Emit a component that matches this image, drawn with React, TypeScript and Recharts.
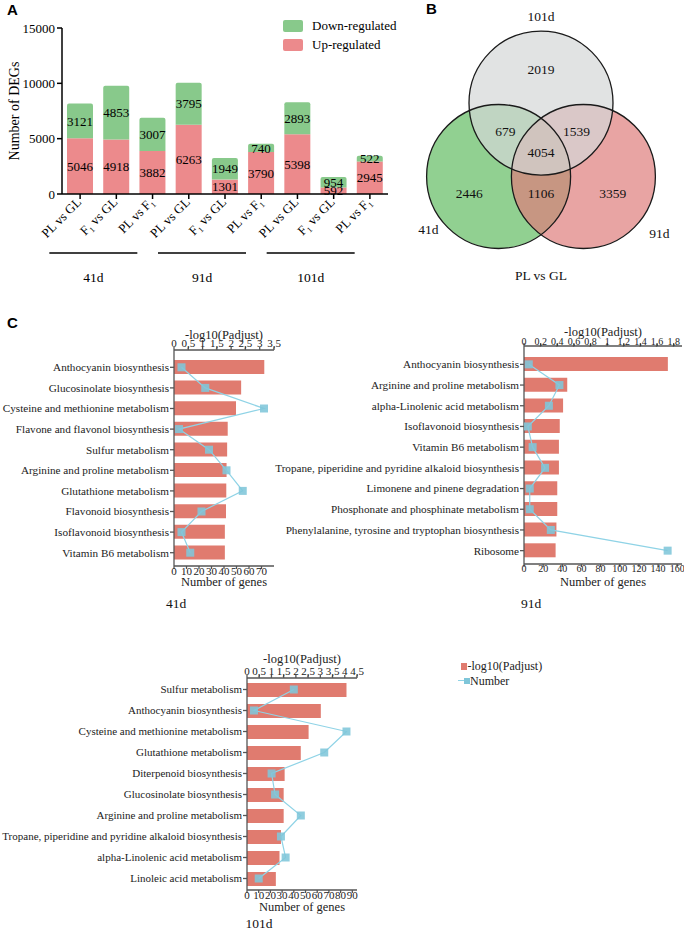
import React from 'react';
import {
  BarChart, Bar, XAxis, YAxis, LabelList, Legend,
  ComposedChart, Line, ScatterChart, Scatter,
} from 'recharts';

const SERIF = '"Liberation Serif", "Times New Roman", Times, serif';
const SANS = '"Liberation Sans", Arial, Helvetica, sans-serif';

// ── A: number of DEGs per comparison ─────────────────────────────────────────
const comparisons = ['PL vs GL', 'F1 vs GL', 'PL vs F1', 'PL vs GL', 'F1 vs GL', 'PL vs F1', 'PL vs GL', 'F1 vs GL', 'PL vs F1'];
const stages = ['41d', '41d', '41d', '91d', '91d', '91d', '101d', '101d', '101d'];
const upRegulated = [5046, 4918, 3882, 6263, 1301, 3790, 5398, 592, 2945];
const downRegulated = [3121, 4853, 3007, 3795, 1949, 740, 2893, 954, 522];
const degTicks = [0, 5000, 10000, 15000];

// ── B: Venn, PL vs GL ────────────────────────────────────────────────────────
const vennSets = ['41d', '91d', '101d'];
const vennRegionSets = [['101d'], ['41d'], ['91d'], ['41d', '101d'], ['91d', '101d'], ['41d', '91d'], ['41d', '91d', '101d']];
const vennCounts = [2019, 2446, 3359, 679, 1539, 1106, 4054];
const vennTitle = 'PL vs GL';

// ── C: KEGG enrichment ───────────────────────────────────────────────────────
const kegg41Pathways = [
  'Anthocyanin biosynthesis', 'Glucosinolate biosynthesis', 'Cysteine and methionine metabolism',
  'Flavone and flavonol biosynthesis', 'Sulfur metabolism', 'Arginine and proline metabolism',
  'Glutathione metabolism', 'Flavonoid biosynthesis', 'Isoflavonoid biosynthesis', 'Vitamin B6 metabolism',
];
const kegg41Padj = [3.16, 2.35, 2.17, 1.88, 1.86, 1.84, 1.83, 1.82, 1.78, 1.78];
const kegg41Genes = [6, 25, 72, 4, 28, 42, 55, 22, 6, 13];
const kegg41PadjTicks = [0, 0.5, 1, 1.5, 2, 2.5, 3, 3.5];
const kegg41GeneTicks = [0, 10, 20, 30, 40, 50, 60, 70];

const kegg91Pathways = [
  'Anthocyanin biosynthesis', 'Arginine and proline metabolism', 'alpha-Linolenic acid metabolism',
  'Isoflavonoid biosynthesis', 'Vitamin B6 metabolism', 'Tropane, piperidine and pyridine alkaloid biosynthesis',
  'Limonene and pinene degradation', 'Phosphonate and phosphinate metabolism',
  'Phenylalanine, tyrosine and tryptophan biosynthesis', 'Ribosome',
];
const kegg91Padj = [1.73, 0.52, 0.47, 0.43, 0.42, 0.42, 0.4, 0.4, 0.39, 0.38];
const kegg91Genes = [5, 37, 26, 4, 9, 22, 6, 6, 28, 150];
const kegg91PadjTicks = [0, 0.2, 0.4, 0.6, 0.8, 1, 1.2, 1.4, 1.6, 1.8];
const kegg91GeneTicks = [0, 20, 40, 60, 80, 100, 120, 140, 160];

const kegg101Pathways = [
  'Sulfur metabolism', 'Anthocyanin biosynthesis', 'Cysteine and methionine metabolism',
  'Glutathione metabolism', 'Diterpenoid biosynthesis', 'Glucosinolate biosynthesis',
  'Arginine and proline metabolism', 'Tropane, piperidine and pyridine alkaloid biosynthesis',
  'alpha-Linolenic acid metabolism', 'Linoleic acid metabolism',
];
const kegg101Padj = [4.07, 3.02, 2.52, 2.2, 1.54, 1.5, 1.5, 1.39, 1.33, 1.18];
const kegg101Genes = [40, 6, 85, 66, 21, 24, 46, 29, 33, 10];
const kegg101PadjTicks = [0, 0.5, 1, 1.5, 2, 2.5, 3, 3.5, 4, 4.5];
const kegg101GeneTicks = [0, 10, 20, 30, 40, 50, 60, 70, 80, 90];

// colours
const UP = '#ec8a8c';
const DOWN = '#88c98b';
const KEGG_BAR = '#e07b6f';
const KEGG_LINE = '#8fd3e6';
const KEGG_MARK = '#7fc6d9';
const AXIS = '#555';

// ── shared ticks (plain svg text, no wrapping) ───────────────────────────────
const makeTick = (opts: { anchor: 'start' | 'middle' | 'end'; dy: string; size: number; fmt?: (v: any) => string; fill?: string }) =>
  (props: any) => (
    <text x={props.x} y={props.y} dy={opts.dy} textAnchor={opts.anchor} fontSize={opts.size}
      fontFamily={SERIF} fill={opts.fill ?? '#222'}>
      {opts.fmt ? opts.fmt(props.payload.value) : props.payload.value}
    </text>
  );

// ── A ────────────────────────────────────────────────────────────────────────
const subscriptOne = (label: string) => {
  const parts = label.split('F1');
  const nodes: React.ReactNode[] = [];
  let shifted = false;
  parts.forEach((p, i) => {
    if (p) {
      nodes.push(<tspan key={`t${i}`} dy={shifted ? -3 : 0}>{p}</tspan>);
      shifted = false;
    }
    if (i < parts.length - 1) {
      nodes.push(<tspan key={`f${i}`} dy={shifted ? -3 : 0}>F</tspan>);
      nodes.push(<tspan key={`s${i}`} fontSize={8} dy={3}>1</tspan>);
      shifted = true;
    }
  });
  return nodes;
};

const ComparisonTick = (props: any) => {
  const { x, y, index } = props;
  return (
    <g transform={`translate(${x + 2},${y + 2})`}>
      <text textAnchor="end" transform="rotate(-45)" dy="0.35em" fontSize={13} fontFamily={SERIF} fill="#000">
        {subscriptOne(comparisons[index])}
      </text>
    </g>
  );
};

// one bracket + label under the middle comparison of every stage
const StageTick = (props: any) => {
  const { x, y, index } = props;
  const isMiddle = stages[index - 1] === stages[index] && stages[index + 1] === stages[index];
  if (!isMiddle) return <g />;
  const cx = x - 23;
  return (
    <g>
      <line x1={cx - 44} x2={cx + 44} y1={y + 7} y2={y + 7} stroke="#000" strokeWidth={1.5} />
      <text x={cx} y={y + 31} dy="0.35em" textAnchor="middle" fontSize={13.5} fontFamily={SERIF} fill="#000">
        {stages[index]}
      </text>
    </g>
  );
};

const DegYTitle = () => (
  <text x={14} y={111} transform="rotate(-90 14 111)" textAnchor="middle" dy="0.35em"
    fontSize={14} fontFamily={SERIF} fill="#000">Number of DEGs</text>
);

const degLegendItems = [
  { label: 'Down-regulated', color: DOWN },
  { label: 'Up-regulated', color: UP },
];

function DegChart() {
  const data = comparisons.map((c, i) => ({ key: `${stages[i]}|${c}`, up: upRegulated[i], down: downRegulated[i] }));
  const valueLabel = { fontSize: 13, fontFamily: SERIF, fill: '#000' };
  return (
    <BarChart width={400} height={300} data={data} margin={{ top: 28, right: 12, bottom: 0, left: 0 }}>
      <XAxis xAxisId="cmp" dataKey="key" height={52} interval={0} tick={<ComparisonTick />}
        tickSize={5} tickMargin={2} axisLine={{ stroke: '#000', strokeWidth: 1.5 }} tickLine={{ stroke: '#000', strokeWidth: 1.5 }} />
      <XAxis xAxisId="stage" dataKey="key" height={54} interval={0} tick={<StageTick />}
        tickSize={0} tickMargin={0} axisLine={false} tickLine={false} />
      <YAxis width={62} domain={[0, 15000]} ticks={degTicks} interval={0} tickSize={5} tickMargin={2}
        tick={makeTick({ anchor: 'end', dy: '0.35em', size: 13, fill: '#000' })}
        axisLine={{ stroke: '#000', strokeWidth: 1.5 }} tickLine={{ stroke: '#000', strokeWidth: 1.5 }}
        label={<DegYTitle />} />
      <Legend layout="vertical" align="center" verticalAlign="middle"
        wrapperStyle={{ left: 283, top: 16, width: 130, height: 40 }}
        content={() => (
          <div style={{ fontFamily: SERIF, fontSize: 13, color: '#000' }}>
            {degLegendItems.map((it) => (
              <div key={it.label} style={{ display: 'flex', alignItems: 'center', height: 19 }}>
                <span style={{ width: 20, height: 12, background: it.color, borderRadius: 2, marginRight: 9 }} />
                <span>{it.label}</span>
              </div>
            ))}
          </div>
        )} />
      <Bar xAxisId="cmp" dataKey="up" stackId="deg" fill={UP} barSize={26} isAnimationActive={false}>
        <LabelList dataKey="up" position="center" style={valueLabel} />
      </Bar>
      <Bar xAxisId="cmp" dataKey="down" stackId="deg" fill={DOWN} barSize={26} radius={[2, 2, 0, 0]} isAnimationActive={false}>
        <LabelList dataKey="down" position="center" style={valueLabel} />
      </Bar>
    </BarChart>
  );
}

// ── B ────────────────────────────────────────────────────────────────────────
const VENN_PX = 72; // pixels per circle radius
const VENN_W = 300;
const VENN_H = 304;
const VENN_D = 0.68; // centre distance from middle, in radii
const vennAngle: Record<string, number> = { '41d': 210, '91d': 330, '101d': 90 };
const vennFill: Record<string, [string, number]> = { '41d': ['#91d091', 1], '91d': ['#de7e7c', 0.7], '101d': ['#d4d7d7', 0.7] };
const vennLabelPos: Record<string, [number, number]> = { '41d': [217, 1.22], '91d': [323, 1.32], '101d': [90, 1.2] };

const polar = (deg: number, r: number) => ({ x: r * Math.cos((deg * Math.PI) / 180), y: r * Math.sin((deg * Math.PI) / 180) });

function VennChart() {
  const circles = vennSets.map((s) => ({ set: s, ...polar(vennAngle[s], VENN_D) }));
  const regions = vennCounts.map((count, i) => {
    const sets = vennRegionSets[i];
    let vx = 0;
    let vy = 0;
    sets.forEach((s) => { const v = polar(vennAngle[s], 1); vx += v.x; vy += v.y; });
    const dist = sets.length === 1 ? 1.15 : sets.length === 2 ? 0.57 : 0;
    const len = Math.hypot(vx, vy);
    return { count, x: dist ? (vx / len) * dist : 0, y: dist ? (vy / len) * dist : 0 };
  });
  const setLabels = circles.map((c) => {
    const [a, r] = vennLabelPos[c.set];
    const off = polar(a, r);
    return { text: c.set, x: c.x + off.x, y: c.y + off.y };
  });
  const title = [{ text: vennTitle, x: 0, y: -1.71 }];

  const textShape = (key: string) => (p: any) => (
    <text x={p.cx} y={p.cy} dy="0.35em" textAnchor="middle" fontSize={13.5} fontFamily={SERIF} fill="#111">
      {p.payload[key]}
    </text>
  );

  return (
    <ScatterChart width={VENN_W} height={VENN_H} margin={{ top: 0, right: 0, bottom: 0, left: 0 }}>
      <XAxis type="number" dataKey="x" hide allowDataOverflow domain={[-VENN_W / 2 / VENN_PX, VENN_W / 2 / VENN_PX]} />
      <YAxis type="number" dataKey="y" hide allowDataOverflow domain={[-VENN_H / 2 / VENN_PX, VENN_H / 2 / VENN_PX]} />
      <Scatter data={circles} isAnimationActive={false}
        shape={(p: any) => {
          const [fill, op] = vennFill[p.payload.set];
          return <circle cx={p.cx} cy={p.cy} r={VENN_PX} fill={fill} fillOpacity={op} />;
        }} />
      <Scatter data={circles} isAnimationActive={false}
        shape={(p: any) => <circle cx={p.cx} cy={p.cy} r={VENN_PX} fill="none" stroke="#1a1a1a" strokeWidth={1.3} />} />
      <Scatter data={regions} isAnimationActive={false} shape={textShape('count')} />
      <Scatter data={setLabels} isAnimationActive={false} shape={textShape('text')} />
      <Scatter data={title} isAnimationActive={false} shape={textShape('text')} />
    </ScatterChart>
  );
}

// ── C ────────────────────────────────────────────────────────────────────────
const comma = (v: number) => String(v).replace('.', ',');

const SquareDot = (props: any) => {
  const { cx, cy, index } = props;
  if (cx == null || cy == null) return <g key={index} />;
  return <rect key={index} x={cx - 4} y={cy - 4} width={8} height={8} fill={KEGG_MARK} fillOpacity={0.88} />;
};

type KeggProps = {
  pathways: string[]; padj: number[]; genes: number[];
  padjDomain: [number, number]; padjTicks: number[];
  geneDomain: [number, number]; geneTicks: number[];
  width: number; height: number; axisWidth: number; right: number;
  topHeight: number; bottomHeight: number; padTop: number; padBottom: number;
  titleOffset: number; genesOffset: number; tickSize?: number; topTickMargin?: number;
  labelSize?: number; legend?: boolean;
};

const keggLegendItems = ['-log10(Padjust)', 'Number'];

function KeggChart(p: KeggProps) {
  const data = p.pathways.map((name, i) => ({ name, padj: p.padj[i], genes: p.genes[i] }));
  const ts = p.tickSize ?? 11;
  const axisLine = { stroke: AXIS, strokeWidth: 1.3 };
  return (
    <ComposedChart layout="vertical" width={p.width} height={p.height} data={data}
      margin={{ top: 0, right: p.right, bottom: 0, left: 0 }}>
      <XAxis xAxisId="padj" orientation="top" type="number" domain={p.padjDomain} ticks={p.padjTicks}
        interval={0} allowDataOverflow height={p.topHeight}
        tick={makeTick({ anchor: 'middle', dy: '0', size: ts, fmt: comma })}
        tickSize={3} tickMargin={p.topTickMargin ?? 0} axisLine={axisLine} tickLine={axisLine}
        label={{ value: '-log10(Padjust)', position: 'insideTop', offset: p.titleOffset, fontSize: 12.5, fontFamily: SERIF, fill: '#222' }} />
      <XAxis xAxisId="genes" orientation="bottom" type="number" domain={p.geneDomain} ticks={p.geneTicks}
        interval={0} allowDataOverflow height={p.bottomHeight}
        tick={makeTick({ anchor: 'middle', dy: '0.72em', size: ts })}
        tickSize={3} tickMargin={-2} axisLine={axisLine} tickLine={axisLine}
        label={{ value: 'Number of genes', position: 'insideTop', offset: p.genesOffset, fontSize: 12.5, fontFamily: SERIF, fill: '#222' }} />
      <YAxis type="category" dataKey="name" width={p.axisWidth} interval={0}
        padding={{ top: p.padTop, bottom: p.padBottom }}
        tick={makeTick({ anchor: 'end', dy: '0.35em', size: p.labelSize ?? 11.2 })} tickSize={4} tickMargin={1}
        axisLine={axisLine} tickLine={axisLine} />
      {p.legend && (
        <Legend layout="vertical" align="center" verticalAlign="middle"
          wrapperStyle={{ left: 458, top: 29, width: 120, height: 32 }}
          content={() => (
            <div style={{ fontFamily: SERIF, fontSize: 12, color: '#222', lineHeight: '14.5px' }}>
              {keggLegendItems.map((label, i) => (
                <div key={label} style={{ display: 'flex', alignItems: 'center', height: 14.5 }}>
                  {i === 0 ? (
                    <span style={{ width: 6, height: 7, background: KEGG_BAR, marginLeft: 3, marginRight: 0.5 }} />
                  ) : (
                    <span style={{ position: 'relative', width: 12, height: 6 }}>
                      <span style={{ position: 'absolute', left: 0, top: 2.5, width: 12, height: 1, background: KEGG_LINE }} />
                      <span style={{ position: 'absolute', left: 6, top: 0, width: 6, height: 6, background: KEGG_MARK }} />
                    </span>
                  )}
                  <span>{label}</span>
                </div>
              ))}
            </div>
          )} />
      )}
      <Bar xAxisId="padj" dataKey="padj" fill={KEGG_BAR} barSize={14} isAnimationActive={false} />
      <Line xAxisId="genes" dataKey="genes" type="linear" stroke={KEGG_LINE} strokeWidth={1.2}
        dot={SquareDot} activeDot={false} isAnimationActive={false} />
    </ComposedChart>
  );
}

// ── page ─────────────────────────────────────────────────────────────────────
const Box = ({ x, y, children }: { x: number; y: number; children: React.ReactNode }) => (
  <div style={{ position: 'absolute', left: x, top: y }}>{children}</div>
);

const Caption = ({ x, y, text, size = 13.5 }: { x: number; y: number; text: string; size?: number }) => (
  <div style={{
    position: 'absolute', left: x, top: y, transform: 'translate(-50%, -50%)', fontFamily: SERIF,
    fontSize: size, lineHeight: 1, whiteSpace: 'nowrap', color: '#111',
  }}>{text}</div>
);

const PanelLetter = ({ x, y, text }: { x: number; y: number; text: string }) => (
  <div style={{ position: 'absolute', left: x, top: y, fontFamily: SANS, fontWeight: 700, fontSize: 15, lineHeight: 1 }}>
    {text}
  </div>
);

export default function App() {
  return (
    <div style={{ position: 'absolute', left: 0, top: 0, width: 684, height: 931, background: '#fff', overflow: 'hidden' }}>
      <Box x={0} y={0}><DegChart /></Box>
      <Box x={391} y={0}><VennChart /></Box>

      <Box x={0} y={310}>
        <KeggChart pathways={kegg41Pathways} padj={kegg41Padj} genes={kegg41Genes}
          padjDomain={[0, 3.5]} padjTicks={kegg41PadjTicks} geneDomain={[0, 80]} geneTicks={kegg41GeneTicks}
          width={300} height={290} axisWidth={174} right={26} topHeight={40} bottomHeight={34}
          padTop={7} padBottom={3} titleOffset={20} genesOffset={11} />
      </Box>
      <Box x={250} y={310}>
        <KeggChart pathways={kegg91Pathways} padj={kegg91Padj} genes={kegg91Genes}
          padjDomain={[0, 1.9]} padjTicks={kegg91PadjTicks} geneDomain={[0, 165]} geneTicks={kegg91GeneTicks}
          width={434} height={290} axisWidth={274} right={2} topHeight={36} bottomHeight={36}
          padTop={8} padBottom={3} titleOffset={17} genesOffset={13.5} tickSize={10} topTickMargin={-1.5} />
      </Box>
      <Box x={0} y={630}>
        <KeggChart pathways={kegg101Pathways} padj={kegg101Padj} genes={kegg101Genes}
          padjDomain={[0, 4.5]} padjTicks={kegg101PadjTicks} geneDomain={[0, 94]} geneTicks={kegg101GeneTicks}
          width={684} height={301} axisWidth={247} right={327} topHeight={48} bottomHeight={41}
          padTop={1} padBottom={1} titleOffset={24} genesOffset={12} labelSize={11} legend />
      </Box>

      <Caption x={176} y={604} text="41d" />
      <Caption x={531} y={604} text="91d" />
      <Caption x={259} y={924} text="101d" />

      <PanelLetter x={7} y={2} text="A" />
      <PanelLetter x={426} y={1} text="B" />
      <PanelLetter x={7} y={315} text="C" />
    </div>
  );
}
